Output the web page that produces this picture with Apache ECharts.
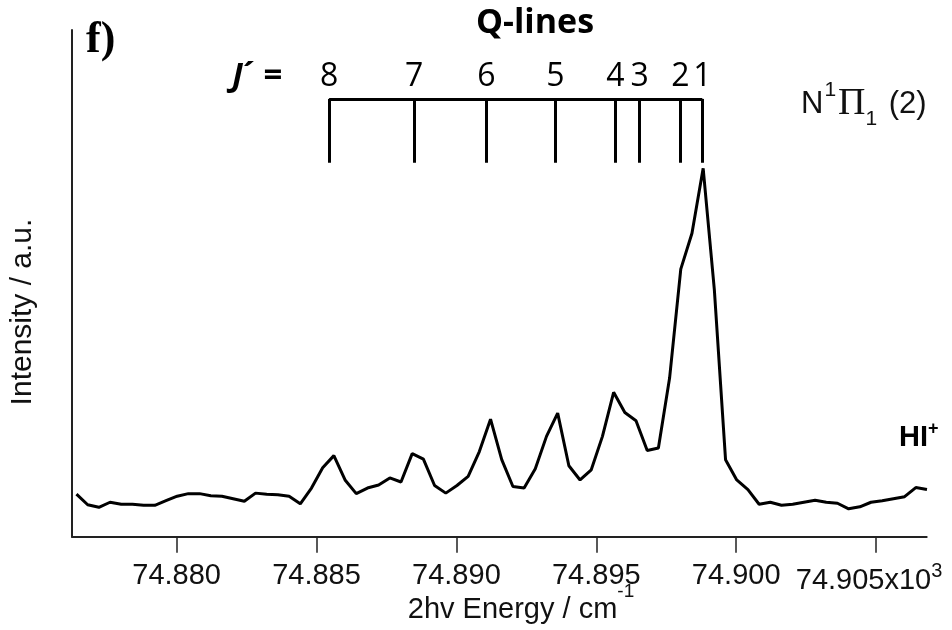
<!DOCTYPE html>
<html>
<head>
<meta charset="utf-8">
<script src="https://cdn.jsdelivr.net/npm/echarts@6/dist/echarts.min.js"></script>
<style>
html,body{margin:0;padding:0;background:#fff;}
#main{width:952px;height:630px;}
</style>
</head>
<body>
<div id="main"></div>
<script>
// ---- data ----
const energy = [
  74876.42, 74876.82, 74877.22, 74877.62, 74878.02, 74878.42, 74878.82, 74879.22, 74879.62, 74880.02,
  74880.42, 74880.82, 74881.22, 74881.62, 74882.02, 74882.42, 74882.82, 74883.22, 74883.62, 74884.02,
  74884.42, 74884.82, 74885.22, 74885.62, 74886.02, 74886.42, 74886.82, 74887.22, 74887.62, 74888.02,
  74888.42, 74888.82, 74889.22, 74889.62, 74890.02, 74890.42, 74890.82, 74891.22, 74891.62, 74892.02,
  74892.42, 74892.82, 74893.22, 74893.62, 74894.02, 74894.42, 74894.82, 74895.22, 74895.62, 74896.02,
  74896.42, 74896.82, 74897.22, 74897.62, 74898.02, 74898.42, 74898.82, 74899.22, 74899.62, 74900.02,
  74900.42, 74900.82, 74901.22, 74901.62, 74902.02, 74902.42, 74902.82, 74903.22, 74903.62, 74904.02,
  74904.42, 74904.82, 74905.22, 74905.62, 74906.02, 74906.42, 74906.82
];
const intensity = [
  8.4, 6.3, 5.8, 6.8, 6.4, 6.4, 6.2, 6.2, 7.1, 8.0,
  8.5, 8.5, 8.1, 8.0, 7.5, 7.0, 8.6, 8.4, 8.3, 8.0,
  6.5, 9.6, 13.6, 16.0, 11.2, 8.5, 9.6, 10.2, 11.6, 10.8,
  16.4, 15.3, 10.1, 8.6, 10.1, 11.9, 16.8, 23.2, 15.2, 9.9,
  9.6, 13.4, 19.8, 24.4, 14.0, 11.2, 13.2, 19.8, 28.5, 24.5,
  22.9, 17.0, 17.5, 31.3, 52.8, 59.9, 72.7, 48.7, 15.2, 11.2,
  9.3, 6.4, 6.8, 6.2, 6.4, 6.8, 7.2, 6.8, 6.6, 5.5,
  5.9, 6.8, 7.1, 7.5, 7.9, 9.7, 9.3
];
const xTickValues = [74880, 74885, 74890, 74895, 74900, 74905];
const xTickLabels = ['74.880', '74.885', '74.890', '74.895', '74.900', '74.905x10'];
const xTickExponent = '3';
const qLineJ = [8, 7, 6, 5, 4, 3, 2, 1];
const qLinePos = [74885.45, 74888.49, 74891.07, 74893.54, 74895.68, 74896.55, 74898.01, 74898.79];

// ---- annotation levels (in intensity units) ----
const bracketTopY = 86.4;
const bracketBottomY = 73.8;
const qLabelY = 90.8;

const chart = echarts.init(document.getElementById('main'), null, {renderer: 'canvas'});

const seriesData = energy.map((e, i) => [e, intensity[i]]);
const markLines = [
  [{coord: [qLinePos[0], bracketTopY]}, {coord: [qLinePos[qLinePos.length - 1], bracketTopY]}]
].concat(qLinePos.map(x => [{coord: [x, bracketTopY]}, {coord: [x, bracketBottomY]}]));

const SANS = '"Liberation Sans", Arial, sans-serif';
const OPEN = '"Open Sans", sans-serif';

const option = {
  animation: false,
  backgroundColor: '#fff',
  grid: {left: 72, right: 25.3, top: 30, bottom: 93.3, containLabel: false, outerBoundsMode: 'none'},
  xAxis: {
    type: 'value',
    min: 74876.26,
    max: 74906.81,
    axisLine: {show: true, onZero: false, lineStyle: {color: '#222', width: 2}},
    axisTick: {show: true, inside: false, length: 16, customValues: xTickValues, lineStyle: {color: '#222', width: 1.5}},
    splitLine: {show: false},
    axisLabel: {
      customValues: xTickValues,
      margin: 25,
      formatter: function (v) {
        const i = xTickValues.indexOf(v);
        if (i === xTickValues.length - 1) return '{m|' + xTickLabels[i] + '}{s|' + xTickExponent + '}';
        return '{a|' + xTickLabels[i] + '}';
      },
      rich: {
        a: {fontFamily: SANS, fontSize: 29, lineHeight: 28, color: '#111'},
        m: {fontFamily: SANS, fontSize: 29, lineHeight: 38, color: '#111'},
        s: {fontFamily: SANS, fontSize: 20, lineHeight: 20, verticalAlign: 'top', color: '#111', padding: [0, 14, 0, 0]}
      }
    }
  },
  yAxis: {
    type: 'value',
    min: 0,
    max: 100,
    axisLine: {show: true, onZero: false, lineStyle: {color: '#222', width: 2}},
    axisTick: {show: false},
    axisLabel: {show: false},
    splitLine: {show: false}
  },
  series: [
    {
      type: 'line',
      data: seriesData,
      symbol: 'none',
      showSymbol: false,
      lineStyle: {color: '#000', width: 3},
      silent: true,
      markLine: {
        silent: true,
        symbol: ['none', 'none'],
        label: {show: false},
        lineStyle: {color: '#000', width: 3, type: 'solid'},
        data: markLines
      }
    },
    {
      type: 'scatter',
      data: qLinePos.map((x, i) => [x, qLabelY, qLineJ[i]]),
      symbolSize: 0,
      silent: true,
      label: {
        show: true,
        position: 'inside',
        formatter: p => String(p.value[2]),
        fontFamily: OPEN,
        fontSize: 32,
        color: '#000',
        textBorderWidth: 0,
        opacity: 1
      }
    }
  ],
  graphic: [
    {type: 'text', x: 86, y: 41, style: {text: 'f)', fontFamily: '"Liberation Serif", serif', fontWeight: 'bold', fontSize: 44, fill: '#000', align: 'left', verticalAlign: 'middle'}},
    {type: 'text', x: 535, y: 23, style: {text: 'Q-lines', fontFamily: OPEN, fontWeight: 'bold', fontSize: 34, fill: '#000', align: 'center', verticalAlign: 'middle'}},
    {type: 'text', x: 232, y: 77, style: {
      text: '{j|J}{t|´ =}', align: 'left', verticalAlign: 'middle',
      rich: {
        j: {fontFamily: OPEN, fontWeight: 'bold', fontStyle: 'italic', fontSize: 33, fill: '#000'},
        t: {fontFamily: OPEN, fontWeight: 'bold', fontSize: 33, fill: '#000'}
      }
    }},
    {type: 'text', x: 801, y: 104.5, style: {
      text: '{n|N}{sup|1}{pi|Π}{sub|1}{n| (2)}', align: 'left', verticalAlign: 'middle',
      rich: {
        n: {fontFamily: SANS, fontSize: 31, lineHeight: 50, fill: '#111'},
        sup: {fontFamily: SANS, fontSize: 21, lineHeight: 21, verticalAlign: 'top', fill: '#111', padding: [0, 2, 0, 1]},
        sub: {fontFamily: SANS, fontSize: 21, lineHeight: 21, verticalAlign: 'bottom', fill: '#111', padding: [0, 3, 0, 0]},
        pi: {fontFamily: '"Liberation Serif", serif', fontSize: 38, lineHeight: 50, fill: '#111'}
      }
    }},
    {type: 'text', x: 899, y: 437.5, style: {
      text: '{n|HI}{s|+}', align: 'left', verticalAlign: 'middle',
      rich: {
        n: {fontFamily: SANS, fontWeight: 'bold', fontSize: 29, lineHeight: 35, fill: '#000'},
        s: {fontFamily: SANS, fontWeight: 'bold', fontSize: 18, lineHeight: 18, verticalAlign: 'top', fill: '#000'}
      }
    }},
    {type: 'text', x: 521, y: 610, style: {
      text: '{m|2hv Energy / cm}{s|-1}', align: 'center', verticalAlign: 'middle',
      rich: {
        m: {fontFamily: SANS, fontSize: 29, lineHeight: 55, fill: '#111'},
        s: {fontFamily: SANS, fontSize: 19, lineHeight: 19, verticalAlign: 'top', fill: '#111'}
      }
    }},
    {type: 'text', x: 23, y: 312, rotation: Math.PI / 2, style: {
      text: 'Intensity / a.u.', fontFamily: SANS, fontSize: 30, fill: '#111', align: 'center', verticalAlign: 'middle'
    }}
  ]
};
chart.setOption(option);
</script>
</body>
</html>
